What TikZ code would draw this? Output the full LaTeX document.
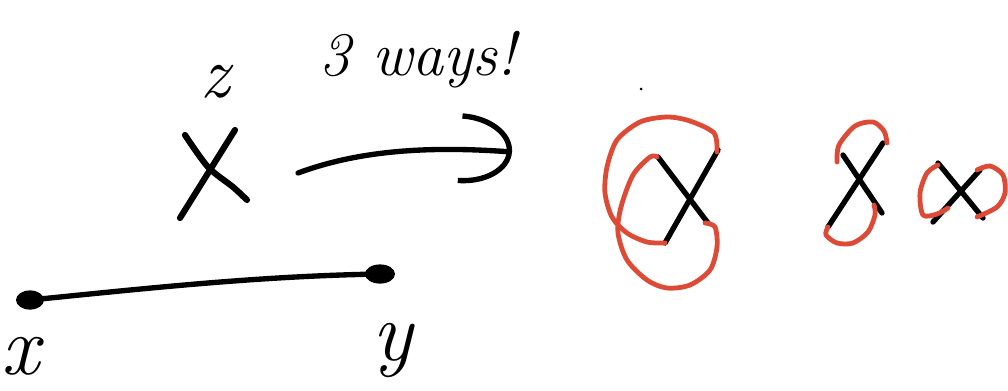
\documentclass[tikz,border=0pt]{standalone}
\usetikzlibrary{arrows.meta,positioning,shapes.geometric}
\usepackage{xcolor}
\definecolor{knotred}{HTML}{DD4B36}

\begin{document}
\begin{tikzpicture}[x=0.025cm, y=-0.025cm,
    ink/.style={draw=black, line width=3.8pt, line cap=round, line join=round},
    loopline/.style={draw=knotred, line width=3.4pt, line cap=round, line join=round},
    handtext/.style={inner sep=0pt, font=\fontsize{#1}{#1}\selectfont\itshape},
    endpt/.style={ellipse, fill=black, inner sep=0pt, minimum height=0.48cm}
]
\useasboundingbox (0,0) rectangle (1008,390);

% labels
\node[handtext=52] (zlab) at (215,82) {z};
\node[handtext=44] (wayslab) at (418,60) {3 ways!};
\node[handtext=60] (xlab) at (20,356) {x};
\node[handtext=60] (ylab) at (393,350) {y};

% the crossing
\draw[ink, line width=4.4pt] plot[smooth] coordinates {(185,135) (208,167) (233,187) (247,200)};
\draw[ink, line width=4.4pt] (235,130) -- (180,218);

% arrow
\coordinate (arrS) at (298,173);
\coordinate (arrE) at (512,152);
\draw[ink, -{Arc Barb[length=1.3cm, width=1.75cm]}] (arrS) .. controls (360,150) and (430,146) .. (arrE);

% segment from x to y
\node[endpt, minimum width=0.7cm] (ptx) at (30,300) {};
\node[endpt, minimum width=0.75cm] (pty) at (380,274) {};
\draw[ink] (ptx.center) .. controls (150,288) and (260,276) .. (pty.center);

\fill (641,89) circle (1.5);

% first way
\draw[ink] (658,157) -- (708,223);
\draw[ink] (718,150) -- (665,243);
\draw[loopline] plot[smooth] coordinates {(717,152) (714,133) (690,121) (667,117) (640,122) (617,140) (607,167) (605,193) (612,217) (627,233) (647,242) (665,243)};
\draw[loopline] plot[smooth] coordinates {(657,157) (650,157) (633,175) (621,207) (618,233) (627,260) (647,280) (667,288) (690,285) (710,270) (717,247) (715,227) (705,223)};

% second way
\draw[ink] (843,155) -- (882,213);
\draw[ink] (883,143) -- (828,227);
\draw[loopline] plot[smooth] coordinates {(837,162) (839,145) (855,126) (873,122) (884,131) (887,143)};
\draw[loopline] plot[smooth] coordinates {(828,227) (826,235) (837,243) (853,243) (868,232) (875,215) (874,205)};

% third way
\draw[ink] (938,163) -- (983,218);
\draw[ink] (980,170) -- (933,222);
\draw[loopline] plot[smooth] coordinates {(938,165) (927,173) (920,193) (923,215) (937,214) (948,208)};
\draw[loopline] plot[smooth] coordinates {(977,170) (990,166) (1003,175) (1005,193) (997,207) (977,217)};

\end{tikzpicture}
\end{document}
